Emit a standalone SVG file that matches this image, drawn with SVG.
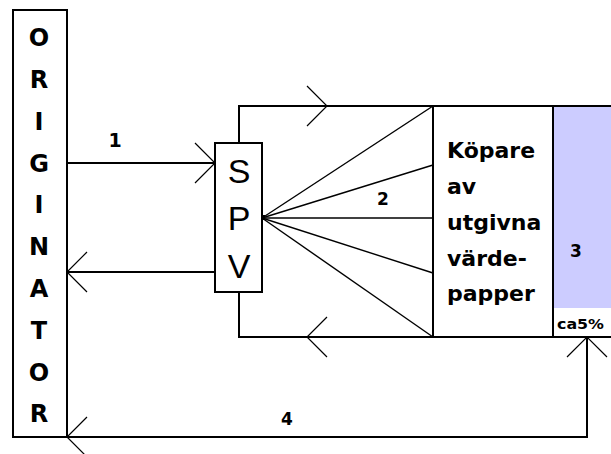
<svg xmlns="http://www.w3.org/2000/svg" width="611" height="454" viewBox="0 0 611 454">
<style>
.box{fill:#fff;stroke:#000;stroke-width:2}
.ln{fill:none;stroke:#000;stroke-width:2}
.fan{fill:none;stroke:#000;stroke-width:1.4}
.ah{fill:none;stroke:#000;stroke-width:1.2}
.big{font-family:"DejaVu Sans",sans-serif;font-weight:bold;font-size:24px;text-anchor:middle}
.spv{font-family:"Liberation Sans",Arial,sans-serif;font-size:34px;text-anchor:middle}
.lbl{font-family:"DejaVu Sans",sans-serif;font-weight:bold;font-size:19px;text-anchor:middle}
.sm{font-size:17px}
.buy{font-family:"DejaVu Sans",sans-serif;font-weight:bold;font-size:22px}
</style>
<rect width="611" height="454" fill="#fff"/>
<g id="originator">
<rect class="box" x="13" y="10" width="54" height="427"/>
<text class="big" x="39" y="46">O</text>
<text class="big" x="39" y="88">R</text>
<text class="big" x="39" y="130">I</text>
<text class="big" x="39" y="172">G</text>
<text class="big" x="39" y="213">I</text>
<text class="big" x="39" y="255">N</text>
<text class="big" x="39" y="297">A</text>
<text class="big" x="39" y="339">T</text>
<text class="big" x="39" y="381">O</text>
<text class="big" x="39" y="422">R</text>
</g>
<g id="investors">
<rect x="553" y="106" width="60" height="202" fill="#ccccff"/>
<text class="lbl sm" x="576" y="257">3</text>
<text x="557" y="329" textLength="47" lengthAdjust="spacingAndGlyphs" style="font-family:'DejaVu Sans',sans-serif;font-weight:bold;font-size:14px">ca5%</text>
</g>
<g id="connectors">
<line class="ln" x1="67" y1="163" x2="215" y2="163"/>
<polyline class="ah" points="195,143 215,163 195,183"/>
<text class="lbl" x="115" y="147">1</text>
<line class="ln" x1="215" y1="272" x2="67" y2="272"/>
<polyline class="ah" points="87,252 67,272 87,292"/>
<polyline class="ln" points="239,143 239,106 611,106"/>
<polyline class="ah" points="307,86 327,106 307,126"/>
<polyline class="ln" points="239,292 239,337 611,337"/>
<polyline class="ah" points="327,317 307,337 327,357"/>
<line class="fan" x1="262" y1="218" x2="433" y2="106"/>
<line class="fan" x1="262" y1="218" x2="433" y2="165"/>
<line class="fan" x1="262" y1="218" x2="433" y2="218"/>
<line class="fan" x1="262" y1="218" x2="433" y2="273"/>
<line class="fan" x1="262" y1="218" x2="433" y2="337"/>
<rect x="260" y="215" width="5" height="5" fill="#000"/>
<text class="lbl sm" x="383" y="205">2</text>
<polyline class="ln" points="587,337 587,437 67,437"/>
<polyline class="ah" points="567,357 587,337 607,357"/>
<polyline class="ah" points="87,417 67,437 87,457"/>
<text class="lbl sm" x="287" y="425">4</text>
</g>
<g id="spv">
<rect class="box" x="215" y="143" width="47" height="149"/>
<text class="spv" x="239" y="183">S</text>
<text class="spv" x="239" y="230">P</text>
<text class="spv" x="239" y="278">V</text>
</g>
<g id="buyers">
<rect class="box" x="433" y="106" width="120" height="231" fill="none"/>
<text class="buy" x="447" y="158">Köpare</text>
<text class="buy" x="447" y="194">av</text>
<text class="buy" x="447" y="230">utgivna</text>
<text class="buy" x="447" y="266">värde-</text>
<text class="buy" x="447" y="301">papper</text>
</g>
</svg>
